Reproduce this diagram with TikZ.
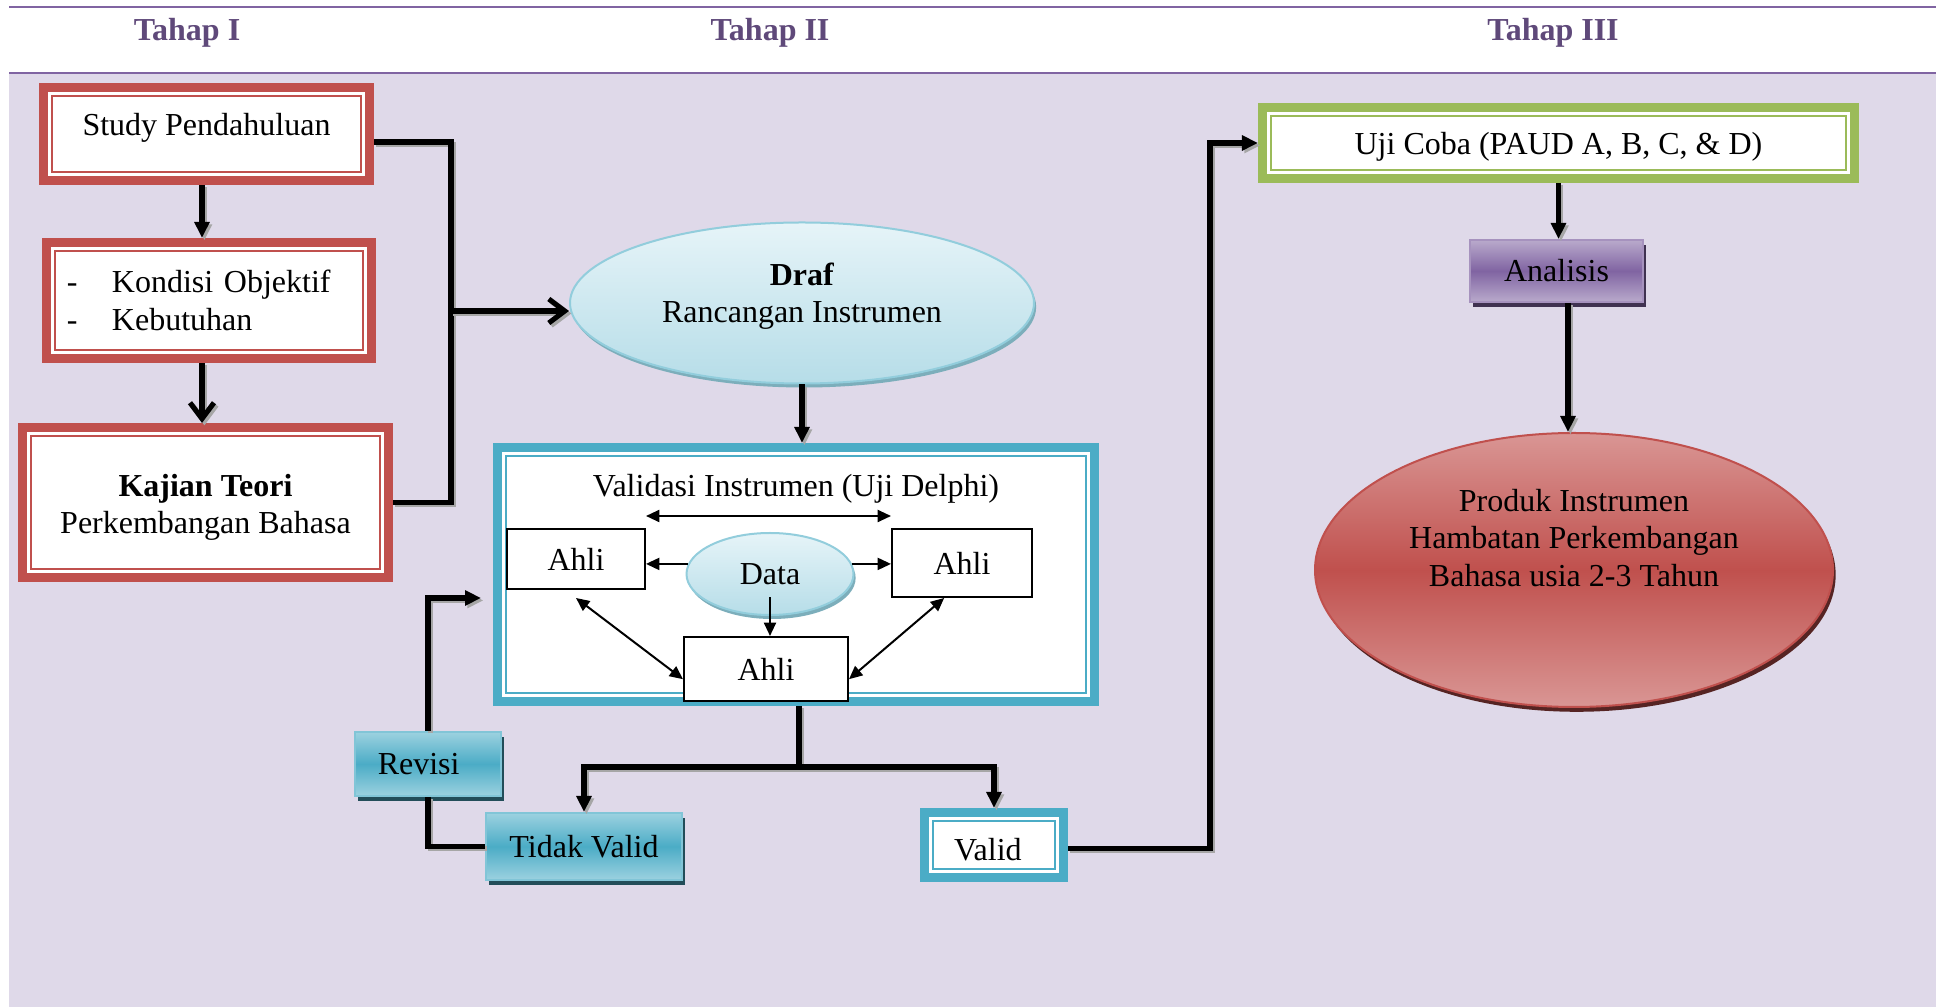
\documentclass[tikz,border=0pt]{standalone}
\usepackage{fontspec}
\setmainfont{Liberation Serif}
\usetikzlibrary{arrows.meta,shapes.geometric,shadows}

\newdimen\ux
\ux=0.375pt

\definecolor{bgLav}{HTML}{DFD9E9}
\definecolor{hdrPurple}{HTML}{5F497A}
\definecolor{lnPurple}{HTML}{8064A2}
\definecolor{accRed}{HTML}{C0504D}
\definecolor{accTeal}{HTML}{4BACC6}
\definecolor{accGreen}{HTML}{9BBB59}
\definecolor{accPurple}{HTML}{8064A2}
\definecolor{iceTop}{HTML}{E6F4F8}
\definecolor{iceBot}{HTML}{B6DDE8}
\definecolor{iceEdge}{HTML}{92CDDC}

\begin{document}
\begin{tikzpicture}[x=0.375pt, y=-0.375pt, font=\fontsize{12}{14}\selectfont,
    >={Triangle[length=6pt,width=5.5pt]}]
    \tikzset{dblbox/.style={rectangle, fill=white, draw=#1, line width=0.75pt,
        preaction={draw=#1, line width=9.75pt},
        preaction={draw=white, line width=2.95pt}, outer sep=4.9pt}}
    \tikzset{gradbox/.style 2 args={rectangle, draw=#1!70!white, line width=0.75pt,
        top color=#1!55!white, bottom color=#1!55!white, middle color=#1,
        drop shadow={fill=#2, opacity=1, shadow xshift=1.2pt, shadow yshift=-1.8pt}}}
    \tikzset{iceoval/.style={ellipse, draw=iceEdge, line width=0.75pt,
        top color=iceTop, bottom color=iceBot,
        drop shadow={fill=iceEdge!85!black, opacity=1, shadow xshift=0.8pt, shadow yshift=-1.5pt}}}
    \tikzset{ahlibox/.style={rectangle, draw=black, line width=0.75pt, fill=white}}
    \tikzset{stagehdr/.style={font=\fontsize{12}{14}\selectfont\bfseries, text=hdrPurple}}
    \tikzset{wire/.style={line width=1.9pt,
        preaction={draw=black!35, line width=1.9pt,
            transform canvas={shift={(0.9pt,-0.9pt)}}}}}
    \tikzset{delphi/.style={line width=0.75pt, >={Triangle[length=5pt,width=4.5pt]}}}
    \tikzset{barb/.style={-{Straight Barb[length=6pt,width=9pt]}}}

    \useasboundingbox (0,0) rectangle (1936,1007);
    \fill[white] (0,0) rectangle (1936,1007);
    \fill[bgLav] (9,73) rectangle (1936,1007);
    \draw[lnPurple, line width=0.75pt] (9,7) -- (1936,7) (9,73) -- (1936,73);

    \path (187,33) node[stagehdr](tahapI){Tahap I};
    \path (770,33) node[stagehdr](tahapII){Tahap II};
    \path (1553,33) node[stagehdr](tahapIII){Tahap III};

    % tahap I
    \path (206.5,134) node[dblbox=accRed, minimum width=309*\ux,
        minimum height=76*\ux, label={[yshift=2.3pt]center:Study Pendahuluan}](study){};
    \path (209,300.5) node[dblbox=accRed, minimum width=308*\ux,
        minimum height=99*\ux, text width=284*\ux, align=left](kondisi)
        {\makebox[45\ux][l]{-}Kondisi Objektif\\\makebox[45\ux][l]{-}Kebutuhan};
    \path (205.5,502.5) node[dblbox=accRed, minimum width=349*\ux,
        minimum height=133*\ux,
        label={[align=center, yshift=-1.9pt]center:\textbf{Kajian Teori}\\Perkembangan Bahasa}](kajian){};

    % tahap II
    \path (802,303) node[iceoval, minimum width=464*\ux, minimum height=161*\ux,
        label={[align=center, yshift=2.5pt]center:\textbf{Draf}\\Rancangan Instrumen}](draf){};
    \path (796,574.5) node[dblbox=accTeal, minimum width=580*\ux,
        minimum height=237*\ux](vbox){};
    \path (796,489) node(vtitle){Validasi Instrumen (Uji Delphi)};
    \path (576,559) node[ahlibox, minimum width=138*\ux, minimum height=60*\ux](ahliL){Ahli};
    \path (962,563) node[ahlibox, minimum width=140*\ux, minimum height=68*\ux](ahliR){Ahli};
    \path (766,669) node[ahlibox, minimum width=164*\ux, minimum height=64*\ux](ahliB){Ahli};
    \path (770,574) node[iceoval, minimum width=167*\ux, minimum height=82*\ux](data){Data};

    \draw[delphi, <->] ([yshift=4.5pt]ahliL.north east) -- ([yshift=4.5pt]ahliR.north west);
    \draw[delphi, ->] (data.173) -- (data.173 -| ahliL.east);
    \draw[delphi, ->] (data.7) -- (data.7 -| ahliR.west);
    \draw[delphi, ->] ([yshift=7pt]data.south) -- (data.south |- ahliB.north);
    \draw[delphi, <->] ([yshift=-3pt]ahliL.south) -- (ahliB.187);
    \draw[delphi, <->] (ahliR.243) -- (ahliB.-7);

    \path (428,764) node[gradbox={accTeal}{accTeal!45!black}, minimum width=146*\ux,
        minimum height=64*\ux, label={[xshift=-3.5pt]center:Revisi}](revisi){};
    \path (584,846.5) node[gradbox={accTeal}{accTeal!45!black}, minimum width=196*\ux,
        minimum height=67*\ux](tidak){Tidak Valid};
    \path (994,845) node[dblbox=accTeal, minimum width=122*\ux,
        minimum height=48*\ux, label={[xshift=-2.3pt, yshift=-1.9pt]center:Valid}](valid){};

    % tahap III
    \path (1558.5,143) node[dblbox=accGreen, minimum width=575*\ux,
        minimum height=54*\ux,
        label={[yshift=-1.4pt]center:Uji Coba (PAUD A, B, C, \& D)}](uji){};
    \path (1556.5,271) node[gradbox={accPurple}{accPurple!50!black}, minimum width=173*\ux,
        minimum height=62*\ux](analisis){Analisis};
    \path (1574,570) node[ellipse, draw=accRed, line width=0.75pt,
        top color=accRed!60!white, bottom color=accRed!60!white, middle color=accRed,
        drop shadow={fill=accRed!45!black, opacity=1, shadow xshift=1pt, shadow yshift=-1.8pt},
        minimum width=518*\ux, minimum height=274*\ux,
        label={[align=center, yshift=12pt]center:Produk Instrumen\\Hambatan Perkembangan\\Bahasa usia 2-3 Tahun}](produk){};

    % connectors
    \coordinate (spine) at (202,0);
    \coordinate (merge) at (451,311);
    \coordinate (fork) at (799,767);
    \coordinate (revin) at (481,598);
    \coordinate (riser) at (1210,500);
    \coordinate (drop) at (1568,0);

    \draw[wire, ->] (spine |- study.south) -- (spine |- kondisi.north);
    \draw[wire, barb] (spine |- kondisi.south) -- (spine |- kajian.north);
    \draw[wire] ([yshift=-3pt]study.east) -| (merge) |- (kajian.east);
    \draw[wire, barb] (merge) -- (merge -| draf.west);
    \draw[wire, ->] (draf.south) -- (draf.south |- vbox.north);
    \draw[wire] (vbox.south -| fork) -- (fork);
    \draw[wire, ->] (fork) -| (tidak.north);
    \draw[wire, ->] (fork) -| (valid.north);
    \draw[wire] (tidak.west) -| (revisi.south);
    \draw[wire, ->] (revisi.north) |- (revin);
    \draw[wire, ->] ([yshift=-1.3pt]valid.east) -- ([yshift=-1.3pt]valid.east -| riser) |- (uji.west);
    \draw[wire, ->] (uji.south) -- (uji.south |- analisis.north);
    \draw[wire, ->] (drop |- analisis.south) -- (drop |- produk.north);
\end{tikzpicture}
\end{document}
